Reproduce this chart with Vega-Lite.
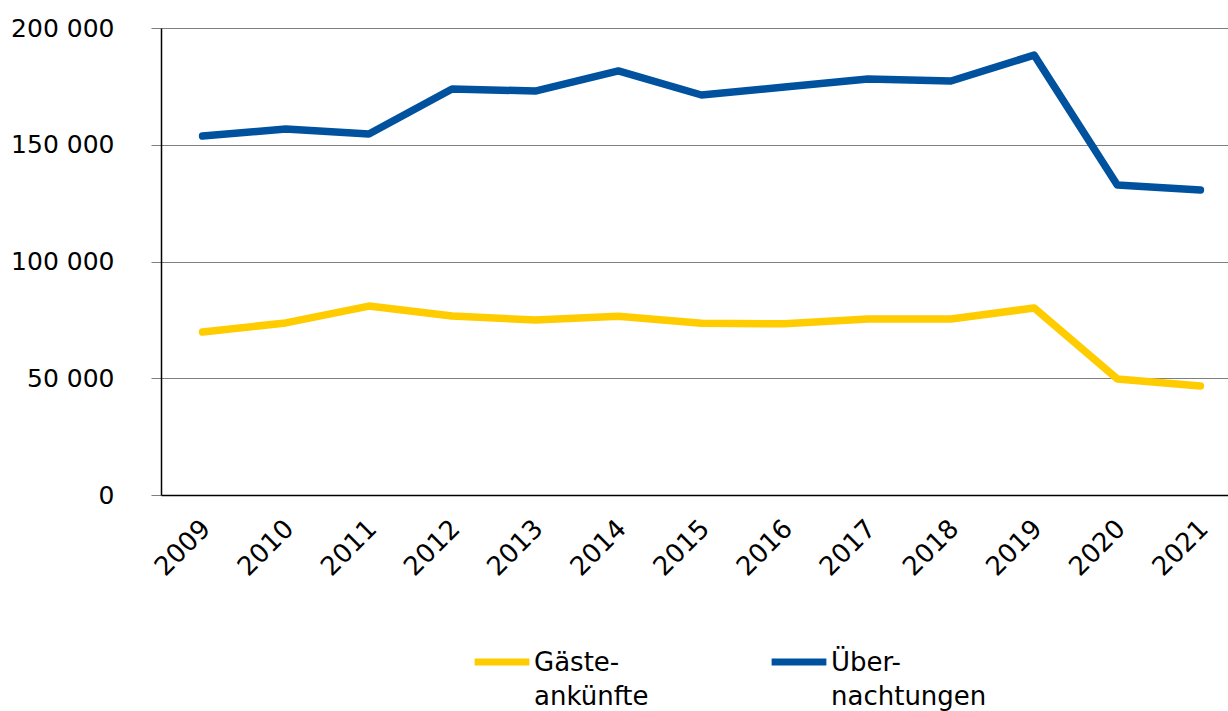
{
  "$schema": "https://vega.github.io/schema/vega-lite/v6.json",
  "autosize": {"type": "none"},
  "padding": {"left": 161, "top": 28, "right": 0, "bottom": 216},
  "width": 1081,
  "height": 467,
  "background": "white",
  "config": {
    "font": "DejaVu Sans",
    "view": {"stroke": null},
    "style": {"guide-label": {"lineHeight": 34}}
  },
  "data": {
    "values": [
      {"year": "2009", "series": "Gäste-|ankünfte", "value": 69800},
      {"year": "2010", "series": "Gäste-|ankünfte", "value": 73700},
      {"year": "2011", "series": "Gäste-|ankünfte", "value": 80900},
      {"year": "2012", "series": "Gäste-|ankünfte", "value": 76700},
      {"year": "2013", "series": "Gäste-|ankünfte", "value": 74900},
      {"year": "2014", "series": "Gäste-|ankünfte", "value": 76600},
      {"year": "2015", "series": "Gäste-|ankünfte", "value": 73600},
      {"year": "2016", "series": "Gäste-|ankünfte", "value": 73300},
      {"year": "2017", "series": "Gäste-|ankünfte", "value": 75400},
      {"year": "2018", "series": "Gäste-|ankünfte", "value": 75400},
      {"year": "2019", "series": "Gäste-|ankünfte", "value": 80100},
      {"year": "2020", "series": "Gäste-|ankünfte", "value": 49700},
      {"year": "2021", "series": "Gäste-|ankünfte", "value": 46700},
      {"year": "2009", "series": "Über-|nachtungen", "value": 153700},
      {"year": "2010", "series": "Über-|nachtungen", "value": 156700},
      {"year": "2011", "series": "Über-|nachtungen", "value": 154600},
      {"year": "2012", "series": "Über-|nachtungen", "value": 173900},
      {"year": "2013", "series": "Über-|nachtungen", "value": 173000},
      {"year": "2014", "series": "Über-|nachtungen", "value": 181600},
      {"year": "2015", "series": "Über-|nachtungen", "value": 171300},
      {"year": "2016", "series": "Über-|nachtungen", "value": 174700},
      {"year": "2017", "series": "Über-|nachtungen", "value": 178200},
      {"year": "2018", "series": "Über-|nachtungen", "value": 177300},
      {"year": "2019", "series": "Über-|nachtungen", "value": 188400},
      {"year": "2020", "series": "Über-|nachtungen", "value": 132800},
      {"year": "2021", "series": "Über-|nachtungen", "value": 130600}
    ]
  },
  "mark": {"type": "line", "strokeWidth": 7.5, "strokeCap": "round", "strokeJoin": "round"},
  "encoding": {
    "x": {
      "field": "year",
      "type": "ordinal",
      "scale": {"type": "point", "padding": 0.5},
      "axis": {
        "title": null,
        "labelAngle": -45,
        "labelFontSize": 26,
        "labelColor": "black",
        "labelPadding": 20,
        "labelOffset": -6,
        "ticks": false,
        "domainColor": "black",
        "domainWidth": 1.5,
        "grid": false
      }
    },
    "y": {
      "field": "value",
      "type": "quantitative",
      "scale": {"domain": [0, 200000], "nice": false},
      "axis": {
        "title": null,
        "values": [0, 50000, 100000, 150000, 200000],
        "labelExpr": "replace(format(datum.value, ',d'), ',', ' ')",
        "labelFontSize": 25,
        "labelColor": "black",
        "labelPadding": 37,
        "tickSize": 10,
        "tickColor": "#7f7f7f",
        "domainColor": "black",
        "domainWidth": 1.5,
        "gridColor": "#7f7f7f",
        "gridOpacity": 1,
        "gridWidth": 1.2
      }
    },
    "color": {
      "field": "series",
      "type": "nominal",
      "scale": {"domain": ["Gäste-|ankünfte", "Über-|nachtungen"], "range": ["#FFCC00", "#00529F"]},
      "legend": {
        "title": null,
        "orient": "none",
        "direction": "horizontal",
        "legendX": 310,
        "legendY": 603,
        "symbolType": "stroke",
        "symbolSize": 3000,
        "symbolStrokeWidth": 7,
        "labelExpr": "split(datum.label, '|')",
        "labelFontSize": 26,
        "labelColor": "black",
        "labelOffset": 1,
        "labelBaseline": "alphabetic",
        "labelLimit": 400,
        "columnPadding": 108,
        "encode": {"labels": {"update": {"dy": {"value": 9}}}}
      }
    }
  }
}
